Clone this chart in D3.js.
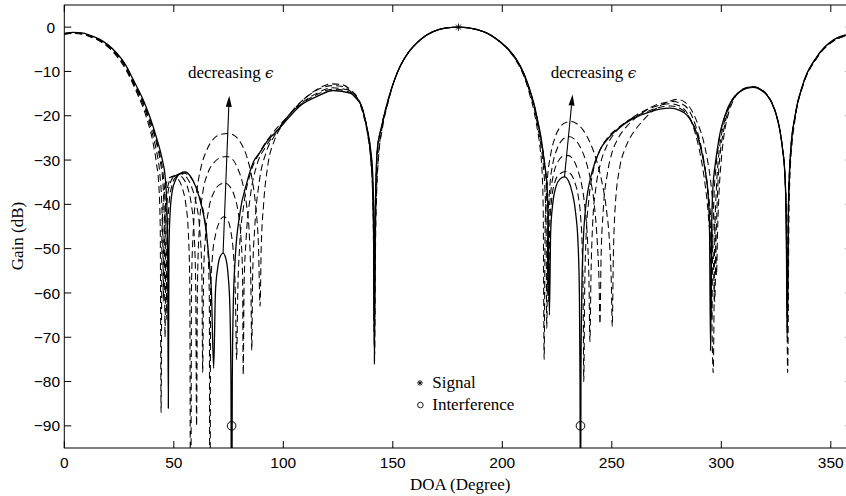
<!DOCTYPE html>
<html><head><meta charset="utf-8">
<script src="https://cdn.jsdelivr.net/npm/d3@7"></script>
<style>body{margin:0;background:#fff}svg{display:block}</style>
</head><body>
<svg id="chart" width="846" height="496"></svg>
<script>
// ---------- data ----------
const xTicks = [0, 50, 100, 150, 200, 250, 300, 350];
const yTicks = [0, -10, -20, -30, -40, -50, -60, -70, -80, -90];
const xLabel = "DOA (Degree)";
const yLabel = "Gain (dB)";

const signalDOA = [[180, 0]];
const interferenceDOA = [[76.4, -90], [235.7, -90]];

// shared main lobe (all curves coincide)
const mainLobe = [[150.5,-12.3],[153.3,-8.9],[157,-5.8],[160.9,-3.6],[164.5,-2.1],[168.5,-1.0],[174,-0.2],[180,0],[186,-0.3],[191.3,-1.0],[195,-1.9]];

// final (smallest epsilon) - solid
const solidLeft = [[0,-1.4],[4,-1.2],[8,-1.3],[12,-1.9],[16,-2.7],[20,-4.0],[24,-5.9],[28,-8.5],[31.5,-11.9],[34,-14.3],[36,-16.4],[38.5,-19.5],[40.6,-22.5],[42.3,-25.3],[43.7,-27.7],[45,-30.5],[46,-33.5],[46.8,-40],[47.2,-50],[47.5,-86],[47.8,-50],[48.3,-42],[49.3,-37],[50.8,-34.5],[53,-33.0],[55.2,-32.7],[57.5,-33.6],[60,-36],[62.5,-40],[64.5,-45],[66,-52],[67.2,-60],[68.2,-77],[69,-60],[70,-54.5],[71,-52],[72.5,-51],[73.8,-52.3],[74.8,-56],[75.6,-63],[76.1,-80],[76.4,-130],[76.7,-80],[77.2,-62],[78,-52.6],[80.2,-42],[83.3,-35.2],[86.3,-30.5],[89.4,-28.2],[93,-25.5],[97,-23.5],[101.5,-21],[107.6,-17.8],[115.2,-15.7],[122.8,-14.3],[130.5,-14.9],[133.5,-16.2],[135.8,-17.9],[138.1,-22.5],[139.9,-27.7],[140.8,-33],[141.3,-45],[141.6,-76],[141.9,-45],[142.4,-33],[142.9,-27.7],[144.9,-22.5],[147.9,-16.4]];
const solidRight = [[199,-3.3],[203,-5.1],[206.6,-7.4],[209.8,-10.4],[212.6,-14.2],[214.7,-17.8],[216.4,-21.7],[217.7,-25],[218.7,-28.5],[219.6,-32],[220.3,-35.2],[220.9,-42],[221.5,-65],[222.1,-46],[223,-40],[224.5,-36],[226.3,-34.3],[228.4,-33.8],[230.3,-34.8],[232,-37.5],[233.5,-42],[234.6,-49],[235.2,-60],[235.5,-80],[235.7,-130],[235.9,-80],[236.3,-60],[237,-48],[237.8,-42],[239,-37.2],[240.8,-33],[244.6,-27.7],[248,-25.3],[252.2,-23.2],[259.8,-20.6],[267.4,-19.1],[272,-18.5],[276.6,-18.3],[281,-18.8],[284.2,-19.8],[286.7,-21.6],[288.8,-24],[290.5,-27],[291.8,-30],[293,-33.5],[294,-38],[294.6,-45],[295.1,-73],[295.6,-45],[296.2,-36],[297.1,-31.5],[298.2,-27.5],[299.4,-24],[301,-21],[303.2,-18],[305.5,-16],[308.5,-14.6],[311.5,-13.8],[314.6,-13.6],[317.8,-14.1],[320.7,-15.3],[323.2,-17.3],[325.3,-20.2],[326.8,-23.5],[328,-27.7],[329,-33],[329.6,-42],[330.1,-69],[330.6,-42],[331.1,-33],[331.7,-27.7],[333.6,-20.2],[337.4,-12.7],[343.6,-6.7],[351.1,-2.9],[356.5,-1.8],[360,-1.4]];

// larger epsilons - dashed (eps1 largest)
const eps1Left = [[0,-1.6],[4,-1.4],[8,-1.6],[12,-2.2],[16,-3.1],[20,-4.5],[24,-6.6],[28,-9.5],[31.5,-13],[34,-15.8],[36,-18.2],[38.5,-22],[40.5,-26],[42,-30.5],[43.2,-36],[43.8,-45],[44.2,-87],[44.6,-46],[45.3,-39],[46.5,-35.5],[48,-34],[50,-33.6],[52,-34.3],[54,-36.5],[55.5,-40],[56.6,-46],[57.3,-58],[57.7,-130],[58.1,-58],[59,-45],[60.5,-37],[62.5,-31.5],[65,-27.8],[68,-25.3],[71.5,-24.2],[75,-24],[78,-24.6],[81,-26.5],[83.5,-29.5],[85.8,-34.5],[87.5,-41],[88.7,-50],[89.4,-63],[89.9,-50],[91,-40],[93,-31],[96,-25.5],[100,-21.7],[105,-18.5],[111,-15.6],[117,-13.6],[122,-12.8],[127,-13.0],[131,-14.3],[134,-16],[136.5,-19.2],[138.6,-24],[140,-30],[140.9,-38],[141.3,-50],[141.7,-74],[142.1,-50],[142.6,-38],[143.4,-30],[145.2,-23],[148,-16.7]];
const eps1Right = [[199,-3.4],[203,-5.3],[206.6,-7.8],[209.8,-11],[212.4,-15],[214.5,-19],[216,-23],[217.3,-27.5],[218.2,-33],[218.7,-42],[219.1,-75],[219.6,-44],[220.5,-35],[222,-29],[224,-25],[226.5,-22.5],[229,-21.5],[231.5,-21.3],[234,-21.8],[237,-23.3],[240,-26],[243,-30],[245.5,-35],[247.5,-41],[249,-49],[249.8,-58],[250.2,-67.6],[250.7,-52],[251.5,-41],[253.7,-31.5],[256,-27.5],[258.3,-25],[261,-23],[264.4,-21],[268,-19.2],[271.9,-17.8],[276,-16.8],[280,-16.3],[283.5,-17],[286.5,-18.8],[289,-21.5],[291.5,-25],[293.5,-29.5],[295.2,-35],[296.5,-42],[297.3,-48],[297.8,-56],[298.3,-46],[299,-37],[300,-30],[301.2,-24.5],[303,-20],[305.5,-16.5],[308.5,-14.4],[311.5,-13.6],[314.6,-13.4],[317.8,-13.9],[320.7,-15.1],[323.2,-17.1],[325.3,-20],[326.8,-23.3],[328,-27.5],[329,-32.8],[329.6,-42],[330.1,-62],[330.6,-42],[331.1,-33],[331.7,-27.9],[333.6,-20.5],[337.4,-13],[343.6,-7],[351.1,-3.2],[356.5,-2],[360,-1.6]];

const eps2Left = [[0,-1.55],[4,-1.35],[8,-1.5],[12,-2.1],[16,-3.0],[20,-4.4],[24,-6.4],[28,-9.2],[31.5,-12.7],[34,-15.3],[36,-17.6],[38.5,-21],[40.5,-24.6],[42.3,-28.5],[43.6,-33],[44.5,-40],[45,-50],[45.2,-62],[45.5,-48],[46.2,-40],[47.5,-35.5],[49.5,-33.7],[52,-33.4],[54.5,-34.3],[56.5,-36.5],[58,-40],[59.2,-46],[60,-58],[60.4,-90],[60.8,-58],[61.7,-45],[63.2,-37.5],[65.5,-33],[68.5,-30.5],[71.5,-29.4],[74.3,-29.2],[76.8,-29.8],[79,-31.7],[81.3,-35],[83.2,-40],[84.5,-47],[85.2,-58],[85.6,-73],[86,-56],[87,-45],[89,-35],[92,-28.5],[96,-24.5],[100,-21.6],[105,-18.4],[111,-15.6],[117,-13.8],[122.3,-13.2],[127,-13.4],[131,-14.6],[134,-16.2],[136.3,-19.4],[138.4,-24],[139.9,-30],[140.8,-38],[141.2,-50],[141.6,-70],[142,-50],[142.5,-38],[143.3,-30],[145,-23],[148,-16.6]];
const eps2Right = [[199,-3.35],[203,-5.2],[206.6,-7.6],[209.8,-10.7],[212.5,-14.6],[214.6,-18.4],[216.2,-22.4],[217.6,-26.7],[218.7,-31],[219.5,-37],[220,-45],[220.3,-68],[220.8,-45],[221.7,-36],[223,-31],[225,-27.5],[227.5,-25.4],[230.3,-24.7],[233,-25.3],[235.5,-27],[238,-30],[240.3,-34.5],[242,-40],[243.3,-48],[244.2,-58],[244.6,-67],[245.1,-52],[246,-42],[248,-33],[250,-28.5],[253,-25],[257,-22.3],[261,-20.4],[265.5,-18.8],[270,-17.6],[274.5,-17],[278,-16.8],[282,-17.3],[285.5,-19],[288.3,-22.3],[290.5,-26.3],[292.3,-31],[293.8,-37],[295.2,-43],[296.3,-51],[297,-62],[297.6,-48],[298.4,-36],[299.5,-28.5],[301,-23.5],[303.3,-18.6],[305.8,-16],[308.5,-14.5],[311.5,-13.7],[314.6,-13.5],[317.8,-14],[320.7,-15.2],[323.2,-17.2],[325.3,-20.1],[326.8,-23.4],[328,-27.6],[329,-33],[329.7,-43],[330.3,-78],[330.9,-43],[331.5,-32],[332.2,-27],[333.8,-20.4],[337.4,-12.9],[343.6,-6.9],[351.1,-3.1],[356.5,-1.95],[360,-1.55]];

const eps3Left = [[0,-1.5],[4,-1.3],[8,-1.45],[12,-2.0],[16,-2.9],[20,-4.25],[24,-6.2],[28,-8.9],[31.5,-12.4],[34,-14.9],[36,-17.1],[38.5,-20.4],[40.6,-23.6],[42.5,-27],[44,-30.8],[45,-35],[45.6,-42],[46,-70],[46.4,-44],[47.2,-38],[48.5,-35],[50.5,-33.5],[53.5,-33.1],[56,-34],[58.3,-36.3],[60.3,-40],[61.8,-45.5],[62.8,-55],[63.2,-78],[63.6,-56],[64.5,-47],[66,-41],[68.3,-37.3],[70.8,-35.6],[73.3,-35.2],[75.6,-36],[77.6,-38],[79.3,-41.5],[80.6,-47],[81.4,-56],[81.7,-78.5],[82.1,-58],[83,-48],[85,-38],[88,-31],[92,-27],[97,-23.4],[102,-20.2],[108,-17.3],[115,-15],[122.5,-13.7],[129,-14.1],[132.5,-15.3],[135.5,-17.6],[137.8,-22],[139.6,-27.5],[140.6,-33],[141.1,-43],[141.5,-66],[141.9,-45],[142.4,-34],[143,-28],[144.9,-22.3],[147.9,-16.3]];
const eps3Right = [[199,-3.3],[203,-5.15],[206.6,-7.5],[209.8,-10.5],[212.6,-14.4],[214.7,-18.1],[216.4,-22],[217.8,-25.8],[219,-30],[220,-35],[220.5,-42],[220.8,-60],[221.2,-44],[222,-38],[223.5,-33],[225.5,-30.3],[228,-29.1],[230.3,-29],[232.5,-30],[234.5,-32.3],[236.4,-36],[237.8,-41],[238.9,-48],[239.6,-58],[240,-71],[240.5,-56],[241.3,-44],[242.8,-36],[245,-30.5],[248,-26.5],[252,-23.5],[257,-21.3],[262,-19.6],[267,-18.4],[272,-17.6],[277,-17.3],[281,-17.8],[284.4,-19.4],[287,-22.2],[289.2,-26],[291,-30.3],[292.6,-35.5],[294,-42],[295.2,-52],[296.3,-78],[297,-48],[297.8,-36],[298.8,-29],[300,-24.5],[301.6,-21],[303.5,-17.9],[305.8,-15.8],[308.5,-14.5],[311.5,-13.7],[314.6,-13.5],[317.8,-14],[320.7,-15.2],[323.2,-17.2],[325.3,-20.1],[326.8,-23.4],[328,-27.6],[329,-33],[329.6,-42],[330.1,-70],[330.6,-42],[331.1,-33],[331.7,-27.8],[333.6,-20.3],[337.4,-12.8],[343.6,-6.8],[351.1,-3.0],[356.5,-1.9],[360,-1.5]];

const eps4Left = [[0,-1.45],[4,-1.25],[8,-1.4],[12,-1.95],[16,-2.8],[20,-4.1],[24,-6.05],[28,-8.7],[31.5,-12.1],[34,-14.6],[36,-16.7],[38.5,-19.9],[40.6,-23],[42.4,-26.2],[44,-29.6],[45.2,-33.5],[46.1,-40],[46.5,-48],[46.8,-66],[47.1,-48],[47.8,-40],[49,-36],[51,-33.8],[54.5,-33],[57.5,-33.8],[60.2,-36],[62.5,-39.5],[64.3,-44],[65.5,-50],[66.2,-60],[66.5,-130],[66.8,-60],[67.6,-52],[69,-47],[70.8,-44],[72.8,-42.8],[74.6,-43.5],[76,-46],[77.2,-51],[78.1,-60],[78.7,-75],[79.2,-60],[80,-50],[82,-40],[85,-33],[89,-28.5],[95,-24],[100,-21.2],[107,-17.8],[115,-15.3],[122.6,-14.0],[129.5,-14.5],[133,-15.8],[135.7,-17.8],[138,-22.3],[139.8,-27.7],[140.7,-33],[141.2,-45],[141.55,-72],[141.9,-45],[142.4,-33],[142.9,-27.7],[144.9,-22.4],[147.9,-16.35]];
const eps4Right = [[199,-3.3],[203,-5.1],[206.6,-7.45],[209.8,-10.45],[212.6,-14.3],[214.7,-17.9],[216.4,-21.8],[217.7,-25.2],[218.8,-28.8],[219.8,-32.5],[220.6,-37],[221,-45],[221.2,-62],[221.6,-46],[222.5,-39],[224,-35],[226,-33.2],[229.3,-32.6],[231.5,-33.3],[233.3,-35.3],[234.8,-38.5],[235.8,-43],[236.5,-50],[236.9,-60],[237.2,-80],[237.6,-60],[238.2,-48],[239.5,-39],[241.5,-32.5],[244.6,-27.8],[248,-25],[252.2,-23],[259.8,-20.4],[267.4,-18.8],[272,-18.1],[277,-17.8],[281,-18.3],[284.3,-19.6],[286.8,-21.6],[289,-24.2],[290.8,-27.4],[292.3,-31],[293.6,-35.5],[294.7,-42],[295.4,-52],[295.7,-66],[296,-52],[296.7,-38],[297.6,-31.5],[298.6,-27],[299.7,-23.7],[301.2,-20.8],[303.3,-17.9],[305.6,-15.9],[308.5,-14.55],[311.5,-13.75],[314.6,-13.55],[317.8,-14.05],[320.7,-15.25],[323.2,-17.25],[325.3,-20.15],[326.8,-23.45],[328,-27.65],[329,-33],[329.6,-42],[330.2,-66],[330.7,-42],[331.2,-33],[331.8,-27.7],[333.7,-20.2],[337.4,-12.75],[343.6,-6.75],[351.1,-2.95],[356.5,-1.85],[360,-1.45]];

// arrows: from smallest-eps sidelobe peak toward larger eps peaks
const arrowLeft = [[72.5, -51], [75.3, -15.5]];
const arrowRight = [[228.4, -33.8], [232.1, -15.2]];
const annotations = [
  {x: 56.5, y: -11.4, text: "decreasing "},
  {x: 222.1, y: -11.4, text: "decreasing "}
];
const legendItems = [
  {marker: "star", mx: 162.4, my: -80.3, tx: 168, ty: -81.4, label: "Signal"},
  {marker: "circle", mx: 162.6, my: -85.3, tx: 168, ty: -86.4, label: "Interference"}
];

// ---------- chart ----------
const svg = d3.select("#chart");
const W = 846, H = 496;
const x = d3.scaleLinear().domain([0, 360]).range([64.3, 852.7]);
const y = d3.scaleLinear().domain([-95, 5]).range([448, 5]);
const serif = "'Liberation Serif','Times New Roman',serif";
const sans = "'Liberation Sans',Arial,Helvetica,sans-serif";

svg.append("rect").attr("width", W).attr("height", H).attr("fill", "#fff");

svg.append("defs").append("clipPath").attr("id", "plotClip")
  .append("rect").attr("x", x(0)).attr("y", y(5)).attr("width", x(360) - x(0)).attr("height", y(-95) - y(5));

const curves = [
  {data: eps1Left.concat(mainLobe, eps1Right), dash: "7,4"},
  {data: eps2Left.concat(mainLobe, eps2Right), dash: "7,4"},
  {data: eps3Left.concat(mainLobe, eps3Right), dash: "7,4"},
  {data: eps4Left.concat(mainLobe, eps4Right), dash: "7,4"},
  {data: solidLeft.concat(mainLobe, solidRight), dash: null}
];

const line = d3.line().x(d => x(d[0])).y(d => y(d[1])).curve(d3.curveMonotoneX);
const plot = svg.append("g").attr("clip-path", "url(#plotClip)");
plot.selectAll("path.curve").data(curves).join("path")
  .attr("class", "curve")
  .attr("d", d => line(d.data))
  .attr("fill", "none")
  .attr("stroke", "#000")
  .attr("stroke-width", d => d.dash ? 1.05 : 1.3)
  .attr("stroke-dasharray", d => d.dash);

// arrows
function drawArrow(a) {
  const p0 = [x(a[0][0]), y(a[0][1])], p1 = [x(a[1][0]), y(a[1][1])];
  const dx = p1[0] - p0[0], dy = p1[1] - p0[1], len = Math.hypot(dx, dy);
  const ux = dx / len, uy = dy / len, nx = -uy, ny = ux;
  const L = 11, w = 3;
  const b = [p1[0] - ux * L, p1[1] - uy * L];
  svg.append("line").attr("x1", p0[0]).attr("y1", p0[1]).attr("x2", b[0]).attr("y2", b[1])
    .attr("stroke", "#000").attr("stroke-width", 1.1);
  svg.append("path").attr("d", `M${p1[0]},${p1[1]}L${b[0] + nx * w},${b[1] + ny * w}L${b[0] - nx * w},${b[1] - ny * w}Z`)
    .attr("fill", "#000");
}
drawArrow(arrowLeft);
drawArrow(arrowRight);

// markers
function star(g, cx, cy, r) {
  const d = `M${cx - r},${cy}H${cx + r}M${cx},${cy - r}V${cy + r}` +
    `M${cx - r * 0.72},${cy - r * 0.72}L${cx + r * 0.72},${cy + r * 0.72}` +
    `M${cx - r * 0.72},${cy + r * 0.72}L${cx + r * 0.72},${cy - r * 0.72}`;
  g.append("path").attr("d", d).attr("stroke", "#000").attr("stroke-width", 0.9).attr("fill", "none");
}
signalDOA.forEach(d => star(svg, x(d[0]), y(d[1]), 3.6));
svg.selectAll("circle.intf").data(interferenceDOA).join("circle")
  .attr("class", "intf").attr("cx", d => x(d[0])).attr("cy", d => y(d[1])).attr("r", 4.3)
  .attr("fill", "none").attr("stroke", "#000").attr("stroke-width", 1);

// annotations
annotations.forEach(a => {
  const t = svg.append("text").attr("x", x(a.x)).attr("y", y(a.y))
    .attr("font-family", serif).attr("font-size", 17).attr("fill", "#000").text(a.text);
  t.append("tspan").attr("font-family", "'DejaVu Serif'," + serif).attr("font-style", "italic")
    .attr("font-size", 15).text("ϵ");
});

// legend
legendItems.forEach(it => {
  if (it.marker === "star") star(svg, x(it.mx), y(it.my), 3);
  else svg.append("circle").attr("cx", x(it.mx)).attr("cy", y(it.my)).attr("r", 2.8)
    .attr("fill", "none").attr("stroke", "#000").attr("stroke-width", 0.9);
  svg.append("text").attr("x", x(it.tx)).attr("y", y(it.ty))
    .attr("font-family", serif).attr("font-size", 17).attr("fill", "#000").text(it.label);
});

// frame
svg.append("rect").attr("x", x(0)).attr("y", y(5)).attr("width", x(360) - x(0)).attr("height", y(-95) - y(5))
  .attr("fill", "none").attr("stroke", "#000").attr("stroke-width", 1);

// axes with inward ticks
const tickLen = 7;
const fmt = v => (v < 0 ? "\u2212" + Math.abs(v) : String(v));
const gx = svg.append("g");
xTicks.forEach(v => {
  gx.append("line").attr("x1", x(v)).attr("x2", x(v)).attr("y1", y(-95)).attr("y2", y(-95) - tickLen).attr("stroke", "#000");
  gx.append("line").attr("x1", x(v)).attr("x2", x(v)).attr("y1", y(5)).attr("y2", y(5) + tickLen).attr("stroke", "#000");
  gx.append("text").attr("x", x(v)).attr("y", 468).attr("text-anchor", "middle")
    .attr("font-family", sans).attr("font-size", 15.5).attr("fill", "#000").text(fmt(v));
});
const gy = svg.append("g");
yTicks.forEach(v => {
  gy.append("line").attr("x1", x(0)).attr("x2", x(0) + tickLen).attr("y1", y(v)).attr("y2", y(v)).attr("stroke", "#000");
  gy.append("line").attr("x1", x(360)).attr("x2", x(360) - tickLen).attr("y1", y(v)).attr("y2", y(v)).attr("stroke", "#000");
  gy.append("text").attr("x", v === 0 ? 55 : 60).attr("y", y(v)).attr("dy", "0.36em").attr("text-anchor", "end")
    .attr("font-family", sans).attr("font-size", 15.5).attr("fill", "#000").text(fmt(v));
});

// axis labels
svg.append("text").attr("x", (x(0) + 846) / 2 + 5).attr("y", 490).attr("text-anchor", "middle")
  .attr("font-family", serif).attr("font-size", 17).attr("fill", "#000").text(xLabel);
svg.append("text").attr("transform", "translate(23," + 236 + ") rotate(-90)").attr("text-anchor", "middle")
  .attr("font-family", serif).attr("font-size", 17).attr("fill", "#000").text(yLabel);
</script>
</body></html>
